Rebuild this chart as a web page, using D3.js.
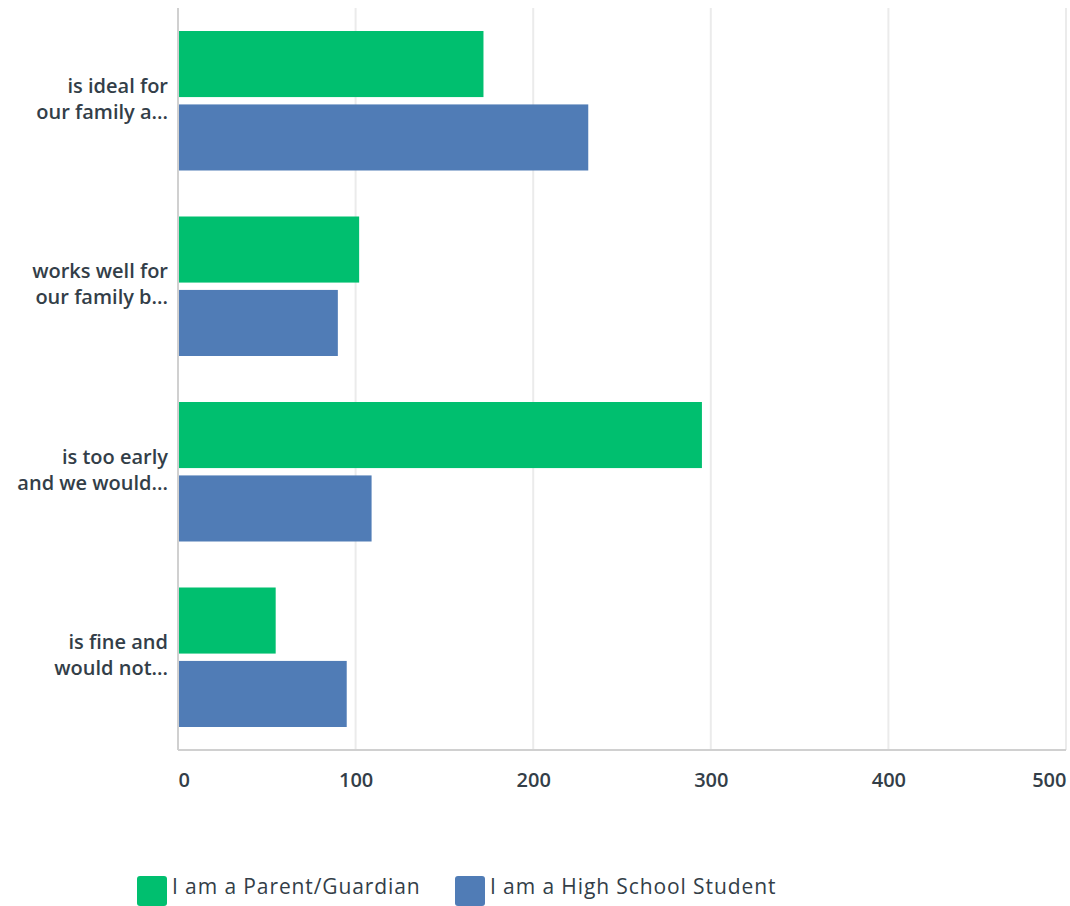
<!DOCTYPE html>
<html>
<head>
<meta charset="utf-8">
<script src="https://cdn.jsdelivr.net/npm/d3@7"></script>
<style>
  body { margin: 0; background: #fff; }
  #chart { width: 1070px; height: 906px; }
  text { font-family: "Open Sans", sans-serif; fill: #333e48; }
</style>
</head>
<body>
<div id="chart"></div>
<script>
// categories (two label lines each) and answer counts
var categories = ["ideal", "works", "early", "fine"];
var labelLines = [
    ["is ideal for", "our family a..."],
    ["works well for", "our family b..."],
    ["is too early", "and we would..."],
    ["is fine and", "would not..."]
];
var seriesNames = ["I am a Parent/Guardian", "I am a High School Student"];
var parentValues = [172, 102, 295, 55];
var studentValues = [231, 90, 109, 95];
var xTicks = [0, 100, 200, 300, 400, 500];
var colors = ["#00bf6f", "#507cb6"];

var margin = { top: 8, right: 4, bottom: 156, left: 178 },
    width = 1070 - margin.left - margin.right,
    height = 906 - margin.top - margin.bottom;

var svg = d3.select("#chart")
    .append("svg")
    .attr("width", 1070)
    .attr("height", 906)
    .append("g")
    .attr("transform", "translate(" + margin.left + "," + margin.top + ")");

var x = d3.scaleLinear().domain([0, 500]).range([0, 888]);

var y = d3.scaleBand()
    .domain(categories)
    .range([0, height])
    .paddingInner(0)
    .paddingOuter(0);

var inner = d3.scaleBand()
    .domain([0, 1])
    .range([23, y.bandwidth() - 23])
    .paddingInner(0.1);

// gridlines
svg.selectAll(".grid")
    .data(xTicks.slice(1))
    .enter()
    .append("line")
    .attr("x1", function (d) { return x(d); })
    .attr("x2", function (d) { return x(d); })
    .attr("y1", 0)
    .attr("y2", height)
    .attr("stroke", "#ebebeb")
    .attr("stroke-width", 2);

// bars
var groups = svg.selectAll(".group")
    .data(categories)
    .enter()
    .append("g")
    .attr("transform", function (d) { return "translate(0," + y(d) + ")"; });

groups.selectAll("rect")
    .data(function (d, i) { return [parentValues[i], studentValues[i]]; })
    .enter()
    .append("rect")
    .attr("x", 0)
    .attr("y", function (d, j) { return inner(j); })
    .attr("width", function (d) { return x(d); })
    .attr("height", inner.bandwidth())
    .attr("fill", function (d, j) { return colors[j]; });

// axis lines
svg.append("line")
    .attr("x1", 0).attr("x2", 0)
    .attr("y1", 0).attr("y2", height)
    .attr("stroke", "#d0d0d0").attr("stroke-width", 2);
svg.append("line")
    .attr("x1", 0).attr("x2", x(500))
    .attr("y1", height).attr("y2", height)
    .attr("stroke", "#d0d0d0").attr("stroke-width", 2);

// x axis labels
var xAxis = svg.append("g")
    .attr("transform", "translate(0," + height + ")")
    .call(d3.axisBottom(x).tickValues(xTicks).tickSize(0));
xAxis.select(".domain").remove();
xAxis.selectAll("text")
    .attr("y", 37)
    .attr("dy", 0)
    .style("font-size", "20px")
    .style("font-weight", 600)
    .style("font-family", "Open Sans, sans-serif")
    .attr("fill", "#333e48")
    .style("text-anchor", function (d, i) {
        return i === 0 ? "start" : (i === xTicks.length - 1 ? "end" : "middle");
    });

// category labels
groups.append("text")
    .attr("text-anchor", "end")
    .attr("x", -10)
    .style("font-size", "20px")
    .style("font-weight", 600)
    .selectAll("tspan")
    .data(function (d, i) { return labelLines[i]; })
    .enter()
    .append("tspan")
    .attr("x", -10)
    .attr("y", function (d, k) { return y.bandwidth() / 2 - 8 + k * 26; })
    .text(function (d) { return d; });

// legend
var legendX = [137, 455];
var legend = d3.select("#chart svg").append("g");
seriesNames.forEach(function (name, i) {
    legend.append("rect")
        .attr("x", legendX[i])
        .attr("y", 876)
        .attr("width", 30)
        .attr("height", 30)
        .attr("rx", 3)
        .attr("fill", colors[i]);
    legend.append("text")
        .attr("x", legendX[i] + 35)
        .attr("y", 894)
        .style("font-size", "21px")
        .style("font-weight", 500)
        .style("letter-spacing", "0.9px")
        .text(name);
});
</script>
</body>
</html>
